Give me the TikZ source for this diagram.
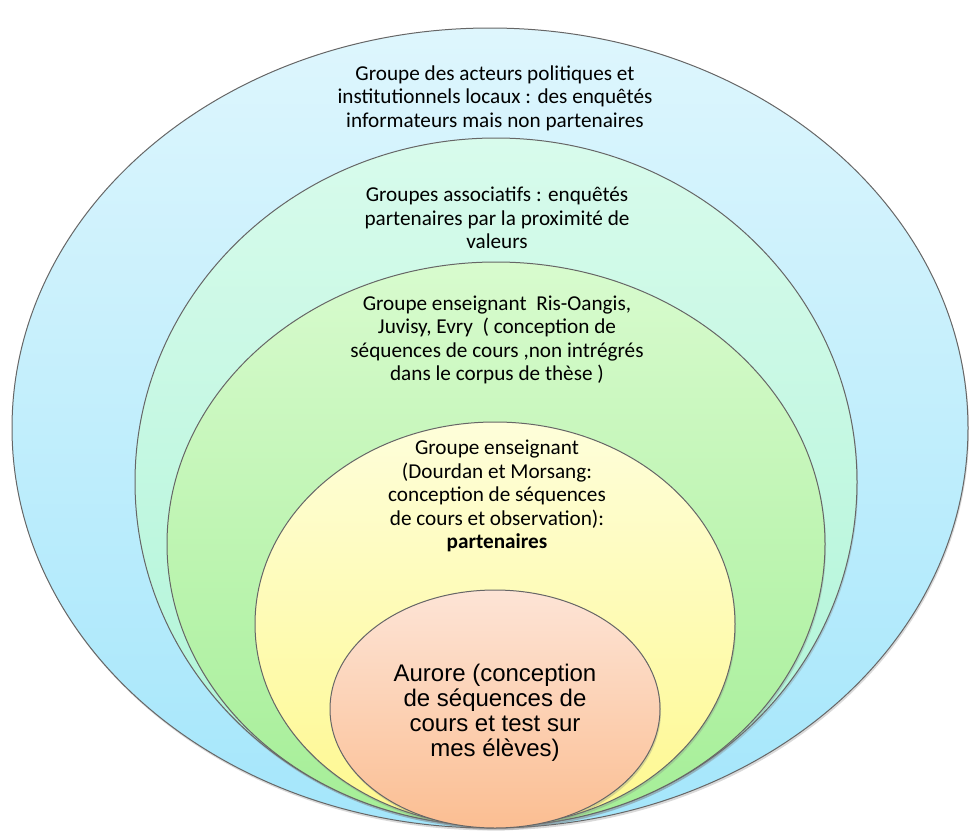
\documentclass[tikz,border=0pt]{standalone}
\usepackage{fontspec}
\setmainfont{Carlito}
\newfontfamily\arialfont{Liberation Sans}
\usetikzlibrary{positioning, shapes.geometric, shadows}

\begin{document}
\begin{tikzpicture}[
    x=0.5pt, y=-0.5pt,
    ring/.style={draw=black!60, line width=0.5pt, ellipse, inner sep=0pt, outer sep=0pt,
        drop shadow={shadow xshift=0.5pt, shadow yshift=-1.2pt, opacity=0.3}},
    label/.style={align=center, font=\fontsize{10.6}{11.8}\selectfont, inner sep=0pt},
]
\useasboundingbox (0,0) rectangle (969,830);

% Rings
\node[ring, top color={rgb,255:red,222;green,246;blue,253}, bottom color={rgb,255:red,164;green,230;blue,251},
    minimum width=478pt, minimum height=400pt] (acteurs) at (490,428) {};
\node[ring, top color={rgb,255:red,216;green,251;blue,236}, bottom color={rgb,255:red,172;green,244;blue,214},
    minimum width=361pt, minimum height=344pt] (assoc) at (496,482) {};
\node[ring, top color={rgb,255:red,216;green,251;blue,206}, bottom color={rgb,255:red,164;green,238;blue,150},
    minimum width=329pt, minimum height=282pt] (risoangis) at (496,544) {};
\node[ring, top color={rgb,255:red,254;green,254;blue,218}, bottom color={rgb,255:red,254;green,248;blue,142},
    minimum width=240pt, minimum height=202pt] (dourdan) at (495,624) {};
\node[ring, top color={rgb,255:red,253;green,228;blue,214}, bottom color={rgb,255:red,251;green,190;blue,146},
    minimum width=165pt, minimum height=119pt] (aurore) at (495,709) {};

% Labels
\node[label] (t_acteurs) at (495,98) {Groupe des acteurs politiques et\\institutionnels locaux : des enquêtés\\informateurs mais non partenaires};
\node[label] (t_assoc) at (497,218) {Groupes associatifs : enquêtés\\partenaires par la proximité de\\valeurs};
\node[label] (t_risoangis) at (497,340) {Groupe enseignant\ \ Ris-Oangis,\\Juvisy, Evry\ \ ( conception de\\séquences de cours ,non intrégrés\\dans le corpus de thèse )};
\node[label] (t_dourdan) at (497,496) {Groupe enseignant\\(Dourdan et Morsang:\\conception de séquences\\de cours et observation):\\\textbf{partenaires}};
\node[label, font=\arialfont\fontsize{12}{12.5}\selectfont] (t_aurore) at (495,713) {Aurore (conception\\de séquences de\\cours et test sur\\mes élèves)};

\end{tikzpicture}
\end{document}
